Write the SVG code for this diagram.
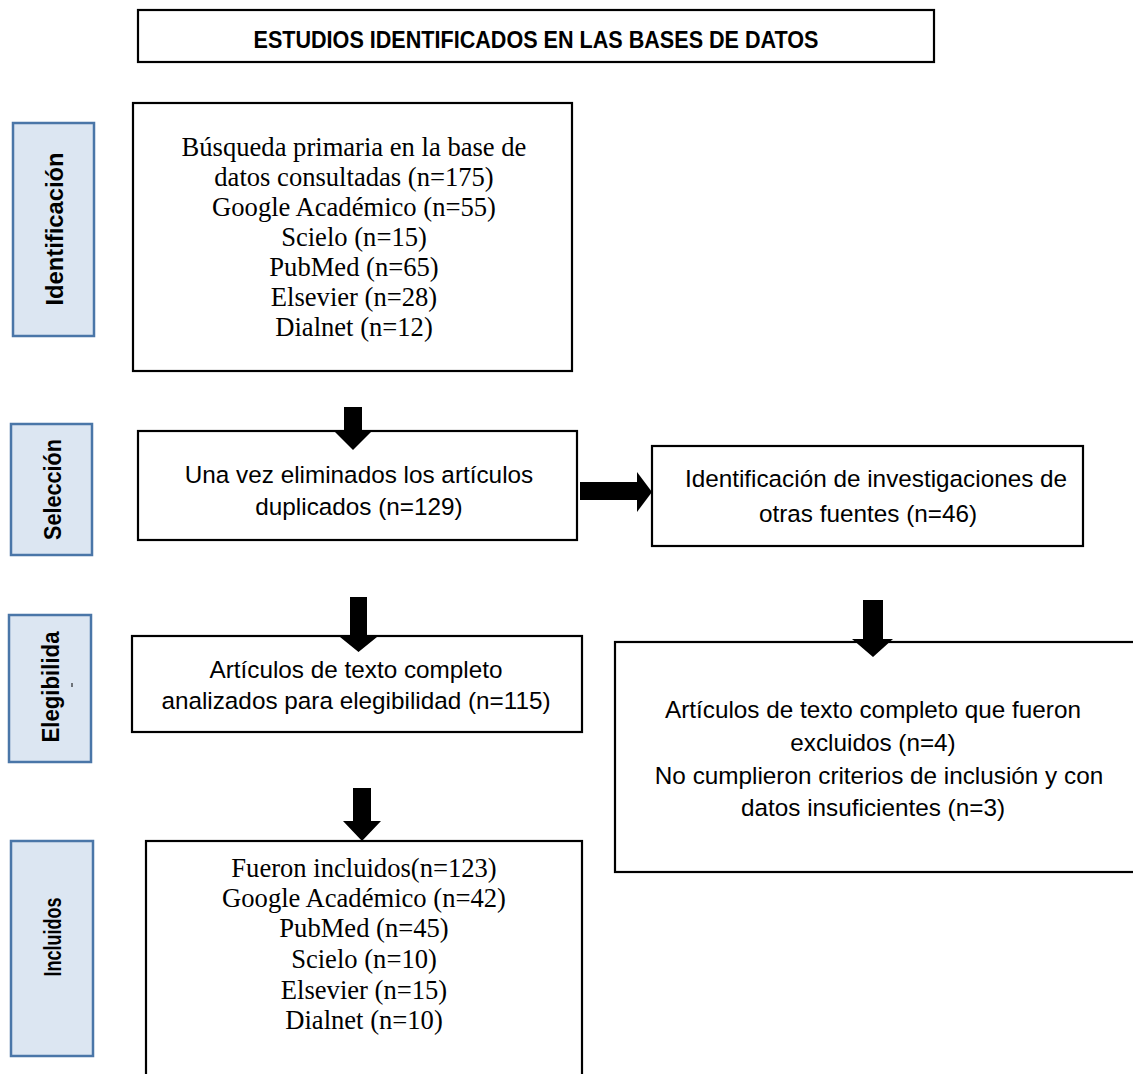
<svg xmlns="http://www.w3.org/2000/svg" width="1133" height="1074" viewBox="0 0 1133 1074">
<style>
.box{fill:#ffffff;stroke:#000000;stroke-width:2.2}
.side{fill:#dce6f2;stroke:#4a76a8;stroke-width:2.5}
.sidet{font-family:"Liberation Sans",Arial,sans-serif;font-weight:bold;font-size:24px;fill:#000;text-anchor:middle;dominant-baseline:central}
.serif{font-family:"Liberation Serif","Times New Roman",serif;font-size:26.6px;fill:#000;text-anchor:middle}
.sans{font-family:"Liberation Sans",Arial,sans-serif;font-size:24.3px;fill:#000;text-anchor:middle}
.title{font-family:"Liberation Sans",Arial,sans-serif;font-weight:bold;font-size:23px;fill:#000;text-anchor:middle}
.arrow{fill:#000000}
</style>
<rect width="1133" height="1074" fill="#ffffff"/>
<g id="title">
<rect class="box" x="138" y="10" width="796" height="52"/>
<text class="title" x="536" y="48" textLength="565" lengthAdjust="spacingAndGlyphs">ESTUDIOS IDENTIFICADOS EN LAS BASES DE DATOS</text>
</g>
<g id="phase-identificacion">
<rect class="side" x="13" y="123" width="81" height="213"/>
<text class="sidet" transform="translate(54 229) rotate(-90)" textLength="153" lengthAdjust="spacingAndGlyphs">Identificación</text>
</g>
<g id="phase-seleccion">
<rect class="side" x="11" y="424" width="81" height="131"/>
<text class="sidet" transform="translate(52 489.5) rotate(-90)" textLength="101" lengthAdjust="spacingAndGlyphs">Selección</text>
</g>
<g id="phase-elegibilidad">
<rect class="side" x="9" y="615" width="82" height="147"/>
<text class="sidet" transform="translate(50 687) rotate(-90)" textLength="111" lengthAdjust="spacingAndGlyphs">Elegibilida</text>
<line x1="72" y1="683" x2="72" y2="687" stroke="#000" stroke-width="1"/>
</g>
<g id="phase-incluidos">
<rect class="side" x="11" y="841" width="82" height="215"/>
<text class="sidet" transform="translate(52 937) rotate(-90)" textLength="79" lengthAdjust="spacingAndGlyphs">Incluidos</text>
</g>
<g id="node-busqueda">
<rect class="box" x="133" y="103" width="439" height="268"/>
<text class="serif" x="354" y="156">Búsqueda primaria en la base de</text>
<text class="serif" x="354" y="186">datos consultadas (n=175)</text>
<text class="serif" x="354" y="216">Google Académico (n=55)</text>
<text class="serif" x="354" y="246">Scielo (n=15)</text>
<text class="serif" x="354" y="276">PubMed (n=65)</text>
<text class="serif" x="354" y="306">Elsevier (n=28)</text>
<text class="serif" x="354" y="336">Dialnet (n=12)</text>
</g>
<g id="node-duplicados">
<rect class="box" x="138" y="431" width="439" height="109"/>
<text class="sans" x="359" y="483">Una vez eliminados los artículos</text>
<text class="sans" x="359" y="515">duplicados (n=129)</text>
</g>
<g id="node-otras-fuentes">
<rect class="box" x="652" y="446" width="431" height="100"/>
<text class="sans" x="876" y="487">Identificación de investigaciones de</text>
<text class="sans" x="868" y="522">otras fuentes (n=46)</text>
</g>
<g id="node-elegibilidad">
<rect class="box" x="132" y="636" width="450" height="96"/>
<text class="sans" x="356" y="678">Artículos de texto completo</text>
<text class="sans" x="356" y="709">analizados para elegibilidad (n=115)</text>
</g>
<g id="node-excluidos">
<rect class="box" x="615" y="642" width="525" height="230"/>
<text class="sans" x="873" y="718">Artículos de texto completo que fueron</text>
<text class="sans" x="873" y="751">excluidos (n=4)</text>
<text class="sans" x="879" y="784">No cumplieron criterios de inclusión y con</text>
<text class="sans" x="873" y="816">datos insuficientes (n=3)</text>
</g>
<g id="node-incluidos">
<rect class="box" x="146" y="841" width="436" height="245"/>
<text class="serif" x="364" y="877">Fueron incluidos(n=123)</text>
<text class="serif" x="364" y="907">Google Académico (n=42)</text>
<text class="serif" x="364" y="937">PubMed (n=45)</text>
<text class="serif" x="364" y="968">Scielo (n=10)</text>
<text class="serif" x="364" y="999">Elsevier (n=15)</text>
<text class="serif" x="364" y="1029">Dialnet (n=10)</text>
</g>
<g id="connectors">
<polygon class="arrow" points="344,407 362,407 362,432 371,432 353,450 335,432 344,432"/>
<polygon class="arrow" points="580,482 637,482 637,472 652,492 637,512 637,500 580,500"/>
<polygon class="arrow" points="350,597 367,597 367,637 377,637 358.5,652 340,637 350,637"/>
<polygon class="arrow" points="863,600 883,600 883,639 893,639 873,657 852,639 863,639"/>
<polygon class="arrow" points="353,788 371,788 371,821 381,821 362,841 343,821 353,821"/>
</g>
</svg>
